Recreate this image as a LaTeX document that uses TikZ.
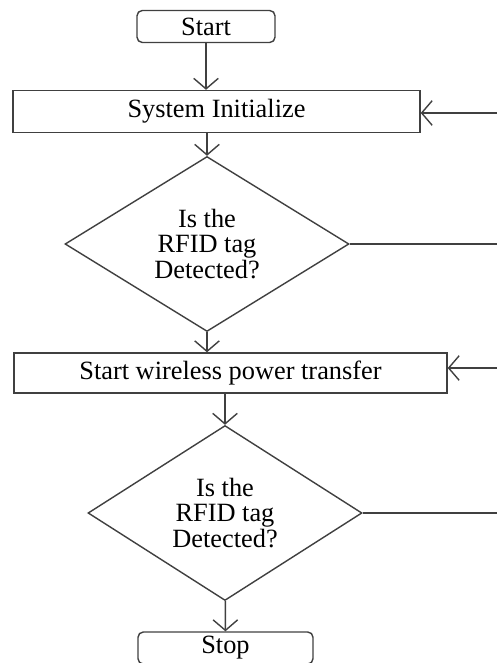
\documentclass[tikz,border=0pt]{standalone}
\usepackage{fontspec}
\setmainfont{Liberation Serif}
\usetikzlibrary{shapes.geometric,arrows.meta}
\begin{document}
\begin{tikzpicture}[
    box/.style={draw=black!75,line width=0.8pt,align=center,inner sep=0pt,font=\fontsize{15}{14.5}\selectfont},
    termbox/.style={box,rounded corners=3pt,minimum width=2.76cm,minimum height=0.64cm},
    widebox/.style={box,minimum height=0.84cm},
    decide/.style={box,diamond,minimum width=5.68cm,minimum height=3.28cm},
    arr/.style={-{Straight Barb[length=6pt,width=14pt]},draw=black!75,line width=0.8pt},
    line/.style={draw=black!75,line width=0.8pt}
]
\useasboundingbox (0,0) rectangle (9.94,-13.26);
\node[termbox] (start) at (4.12,-0.53) {Start};
\node[widebox,minimum width=8.14cm] (init) at (4.33,-2.23) {System Initialize};
\node[decide] (det1) at (4.14,-4.88) {Is the\\RFID tag\\Detected?};
\node[widebox,minimum width=8.66cm,minimum height=0.8cm] (wpt) at (4.61,-7.46) {Start wireless power transfer};
\node[decide,minimum width=5.48cm,minimum height=3.2cm] (det2) at (4.5,-10.26) {Is the\\RFID tag\\Detected?};
\node[termbox,minimum width=3.5cm] (stop) at (4.51,-12.96) {Stop};
\coordinate (r1) at (9.94,-2.26);
\coordinate (r2) at (9.94,-7.36);
\draw[arr] (start) -- (start |- init.north);
\draw[arr] (det1.north |- init.south) -- (det1);
\draw[arr] (det1) -- (det1 |- wpt.north);
\draw[arr] (det2.north |- wpt.south) -- (det2);
\draw[arr] (det2) -- (stop);
\draw[arr] (r1) -- (r1 -| init.east);
\draw[arr] (r2) -- (r2 -| wpt.east);
\draw[line] (det1.east) -- (det1.east -| r1);
\draw[line] (det2.east) -- (det2.east -| r2);
\end{tikzpicture}
\end{document}
